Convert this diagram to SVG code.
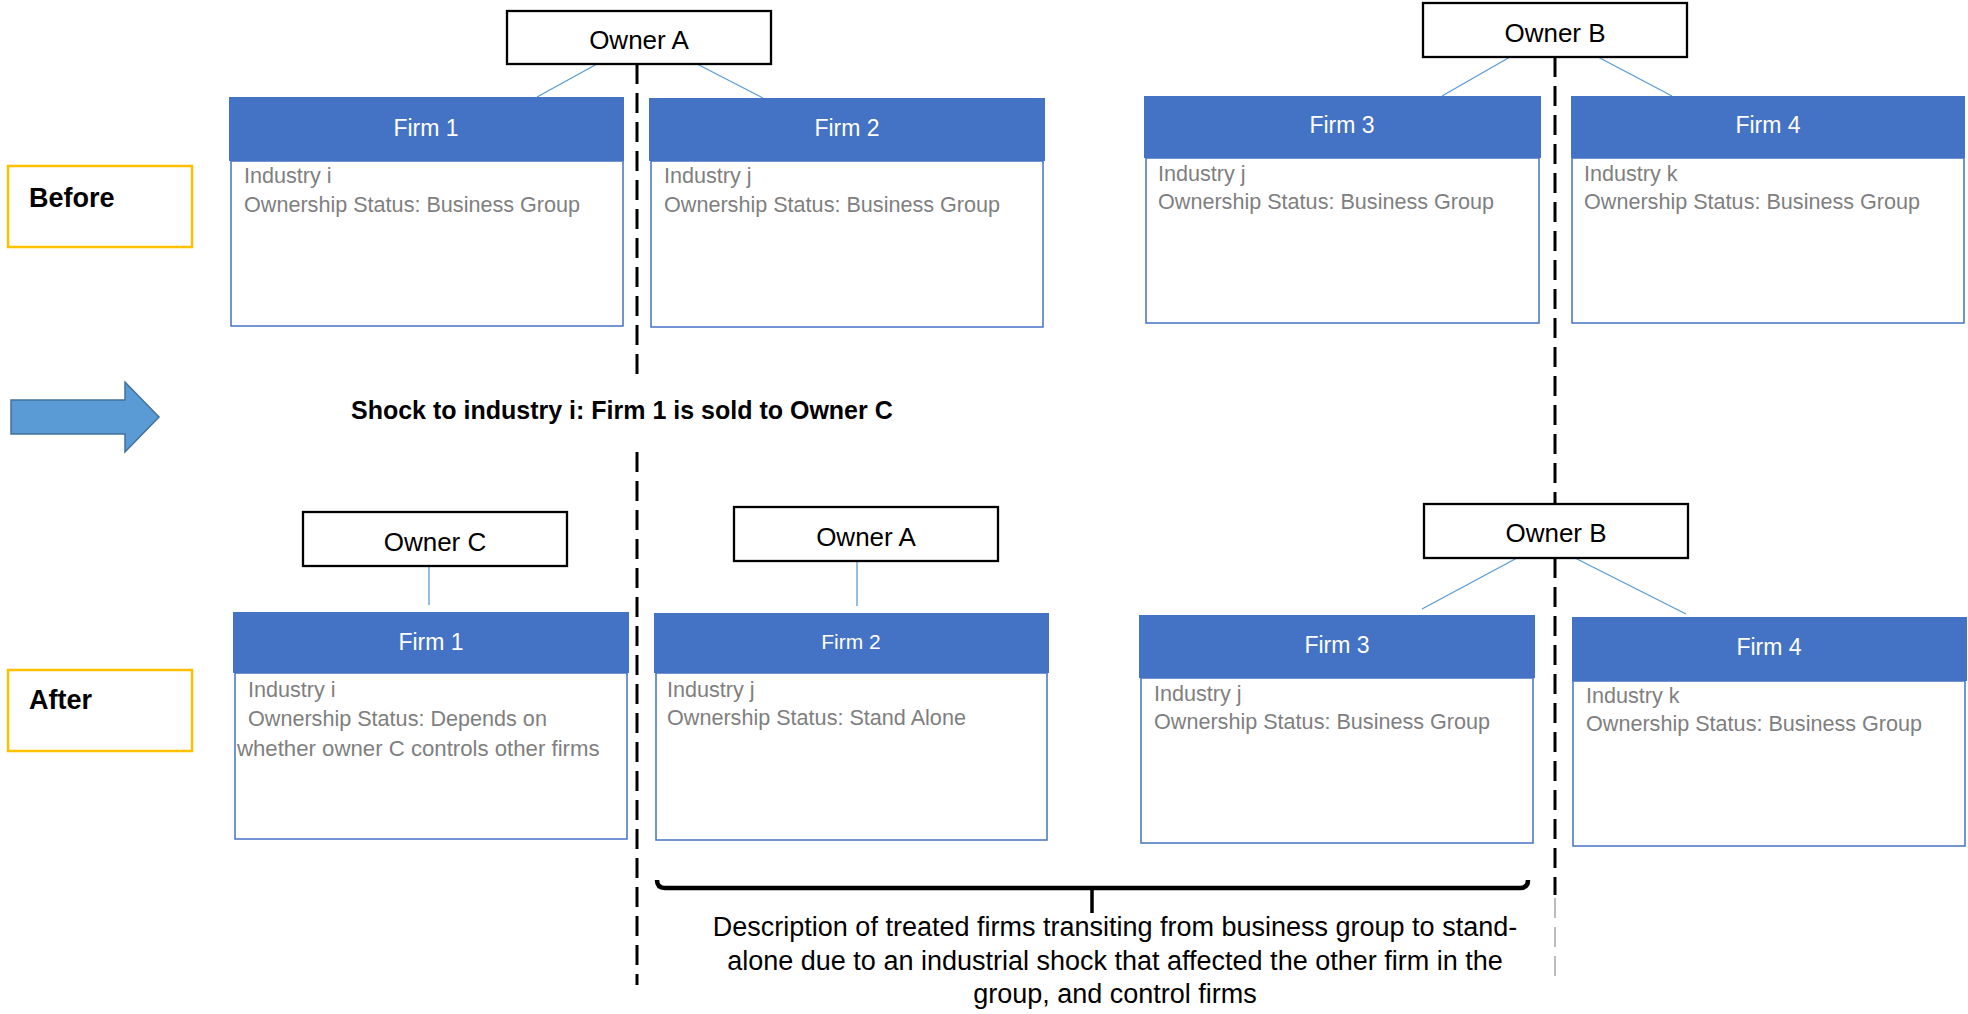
<svg xmlns="http://www.w3.org/2000/svg" width="1968" height="1014" viewBox="0 0 1968 1014">
<style>
.hdr{fill:#4472C4;}
.body{fill:#fff;stroke:#4472C4;stroke-width:1.5;}
.htxt{font-family:"Liberation Sans",Arial,sans-serif;font-size:23px;fill:#fff;text-anchor:middle;}
.btxt{font-family:"Liberation Sans",Arial,sans-serif;font-size:21.6px;fill:#7F7F7F;}
.owner{fill:#fff;stroke:#000;stroke-width:2.3;}
.otxt{font-family:"Liberation Sans",Arial,sans-serif;font-size:26px;fill:#000;text-anchor:middle;}
.lbl{fill:#fff;stroke:#FFC000;stroke-width:2.5;}
.ltxt{font-family:"Liberation Sans",Arial,sans-serif;font-size:27px;font-weight:bold;fill:#000;}
.conn{stroke:#5B9BD5;stroke-width:1.3;fill:none;}
.dash{stroke:#000;stroke-width:3;stroke-dasharray:20 9;fill:none;}
.dtxt{font-family:"Liberation Sans",Arial,sans-serif;font-size:27px;fill:#000;text-anchor:middle;}
</style>
<rect width="1968" height="1014" fill="#fff"/>

<g id="separators">
<line class="dash" x1="637" y1="64" x2="637" y2="378"/>
<line class="dash" x1="637" y1="452" x2="637" y2="985"/>
<line class="dash" x1="1555" y1="57" x2="1555" y2="504"/>
<line class="dash" x1="1555" y1="558" x2="1555" y2="895"/>
<line x1="1555" y1="898" x2="1555" y2="980" stroke="#A6A6A6" stroke-width="1.5" stroke-dasharray="20 9"/>
</g>

<g id="connectors">
<line class="conn" x1="597" y1="64" x2="537" y2="97"/>
<line class="conn" x1="697" y1="64" x2="763" y2="98"/>
<line class="conn" x1="1510" y1="57" x2="1442" y2="96"/>
<line class="conn" x1="1598" y1="57" x2="1672" y2="96"/>
<line class="conn" x1="429" y1="566" x2="429" y2="605"/>
<line class="conn" x1="857" y1="561" x2="857" y2="606"/>
<line class="conn" x1="1517" y1="558" x2="1422" y2="609"/>
<line class="conn" x1="1575" y1="558" x2="1686" y2="614"/>
</g>

<g id="label-before">
<rect class="lbl" x="8" y="166" width="184" height="81"/>
<text class="ltxt" x="29" y="207">Before</text>
</g>
<g id="label-after">
<rect class="lbl" x="8" y="670" width="184" height="81"/>
<text class="ltxt" x="29" y="709">After</text>
</g>

<g id="owner-a-before">
<rect class="owner" x="507" y="11" width="264" height="53"/>
<text class="otxt" x="639" y="49">Owner A</text>
</g>
<g id="owner-b-before">
<rect class="owner" x="1423" y="3" width="264" height="54"/>
<text class="otxt" x="1555" y="42">Owner B</text>
</g>

<g id="firm1-before">
<rect class="body" x="231" y="161" width="392" height="165"/>
<rect class="hdr" x="229" y="97" width="395" height="64"/>
<text class="htxt" x="426" y="136">Firm 1</text>
<text class="btxt" x="244" y="183">Industry i</text>
<text class="btxt" x="244" y="212">Ownership Status: Business Group</text>
</g>
<g id="firm2-before">
<rect class="body" x="651" y="161" width="392" height="166"/>
<rect class="hdr" x="649" y="98" width="396" height="63"/>
<text class="htxt" x="847" y="136">Firm 2</text>
<text class="btxt" x="664" y="183">Industry j</text>
<text class="btxt" x="664" y="212">Ownership Status: Business Group</text>
</g>
<g id="firm3-before">
<rect class="body" x="1146" y="158" width="393" height="165"/>
<rect class="hdr" x="1144" y="96" width="397" height="62"/>
<text class="htxt" x="1342" y="133">Firm 3</text>
<text class="btxt" x="1158" y="181">Industry j</text>
<text class="btxt" x="1158" y="209">Ownership Status: Business Group</text>
</g>
<g id="firm4-before">
<rect class="body" x="1572" y="158" width="392" height="165"/>
<rect class="hdr" x="1571" y="96" width="394" height="62"/>
<text class="htxt" x="1768" y="133">Firm 4</text>
<text class="btxt" x="1584" y="181">Industry k</text>
<text class="btxt" x="1584" y="209">Ownership Status: Business Group</text>
</g>

<g id="shock-arrow">
<polygon points="11,400 125,400 125,382 159,417 125,452 125,434 11,434" fill="#5B9BD5" stroke="#41719C" stroke-width="1.5"/>
</g>
<g id="shock-label">
<text class="ltxt" style="font-size:25px" x="351" y="419">Shock to industry i: Firm 1 is sold to Owner C</text>
</g>

<g id="owner-c-after">
<rect class="owner" x="303" y="512" width="264" height="54"/>
<text class="otxt" x="435" y="551">Owner C</text>
</g>
<g id="owner-a-after">
<rect class="owner" x="734" y="507" width="264" height="54"/>
<text class="otxt" x="866" y="546">Owner A</text>
</g>
<g id="owner-b-after">
<rect class="owner" x="1424" y="504" width="264" height="54"/>
<text class="otxt" x="1556" y="542">Owner B</text>
</g>

<g id="firm1-after">
<rect class="body" x="235" y="673" width="392" height="166"/>
<rect class="hdr" x="233" y="612" width="396" height="61"/>
<text class="htxt" x="431" y="650">Firm 1</text>
<text class="btxt" x="248" y="697">Industry i</text>
<text class="btxt" x="248" y="726">Ownership Status: Depends on</text>
<text class="btxt" style="font-size:22.2px" x="237" y="756">whether owner C controls other firms</text>
</g>
<g id="firm2-after">
<rect class="body" x="656" y="673" width="391" height="167"/>
<rect class="hdr" x="654" y="613" width="395" height="60"/>
<text class="htxt" style="font-size:21px" x="851" y="649">Firm 2</text>
<text class="btxt" x="667" y="697">Industry j</text>
<text class="btxt" x="667" y="725">Ownership Status: Stand Alone</text>
</g>
<g id="firm3-after">
<rect class="body" x="1141" y="678" width="392" height="165"/>
<rect class="hdr" x="1139" y="615" width="396" height="63"/>
<text class="htxt" x="1337" y="653">Firm 3</text>
<text class="btxt" x="1154" y="701">Industry j</text>
<text class="btxt" x="1154" y="729">Ownership Status: Business Group</text>
</g>
<g id="firm4-after">
<rect class="body" x="1573" y="681" width="392" height="165"/>
<rect class="hdr" x="1572" y="617" width="395" height="64"/>
<text class="htxt" x="1769" y="655">Firm 4</text>
<text class="btxt" x="1586" y="703">Industry k</text>
<text class="btxt" x="1586" y="731">Ownership Status: Business Group</text>
</g>

<g id="bracket">
<path d="M657,880 Q657,888 665,888 L1520,888 Q1528,888 1528,880" fill="none" stroke="#000" stroke-width="4.5"/>
<line x1="1092" y1="888" x2="1092" y2="913" stroke="#000" stroke-width="3.5"/>
</g>
<g id="description">
<text class="dtxt" x="1115" y="936">Description of treated firms transiting from business group to stand-</text>
<text class="dtxt" x="1115" y="970">alone due to an industrial shock that affected the other firm in the</text>
<text class="dtxt" x="1115" y="1003">group, and control firms</text>
</g>
</svg>
